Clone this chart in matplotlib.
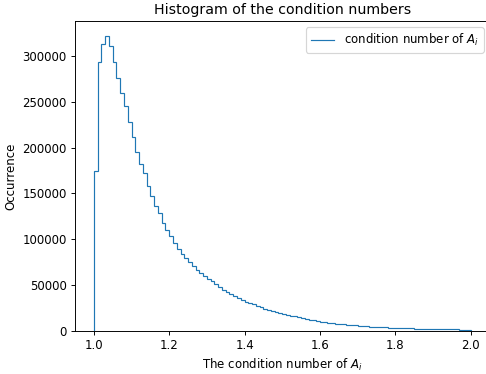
import numpy as np
import matplotlib
matplotlib.use("Agg")
import matplotlib.pyplot as plt

# histogram range and counts per bin (100 bins between 1.0 and 2.0)
x_min, x_max = 1.0, 2.0
counts = [
    174500, 292800, 312800, 321500, 310500, 293000, 276000, 259000, 245500, 227500,
    211500, 195000, 182500, 172000, 158000, 147000, 136000, 128500, 118000, 110500,
    103500, 96000, 89500, 84000, 79500, 75500, 71000, 67000, 63500, 60000,
    57000, 54000, 51000, 48000, 45000, 42500, 40000, 38000, 36000, 34000,
    32000, 30500, 29000, 27500, 26000, 24500, 23200, 22000, 20800, 19700,
    18700, 17700, 16800, 16000, 14800, 14000, 13200, 12400, 11700, 11000,
    10300, 9700, 9100, 8600, 8100, 7600, 7200, 6800, 6400, 6000,
    5700, 5400, 5100, 4800, 4600, 4400, 4200, 4000, 3800, 3600,
    3450, 3300, 3150, 3000, 2850, 2700, 2600, 2500, 2400, 2300,
    2200, 2100, 2000, 1900, 1850, 1750, 1700, 1600, 1550, 1500,
]
series_label = 'condition number of $A_i$'

edges = np.linspace(x_min, x_max, len(counts) + 1)

dpi = 85
fig = plt.figure(figsize=(486 / dpi, 374 / dpi), dpi=dpi)
ax = fig.add_axes([75 / 486, 1 - 331 / 374, (489.5 - 75) / 486, (331 - 21.3) / 374])

# step outline, closed down to zero at both ends like hist(histtype='step')
ax.stairs(counts, edges, baseline=0, fill=False, color='C0', label=series_label)
ax.margins(x=0.05, y=0.05)
ax.set_ylim(bottom=0)
ax.set_title('Histogram of the condition numbers')
ax.set_xlabel('The condition number of $A_i$')
ax.set_ylabel('Occurrence')
ax.legend(loc='upper right')

fig.savefig('out.png', dpi=dpi)
